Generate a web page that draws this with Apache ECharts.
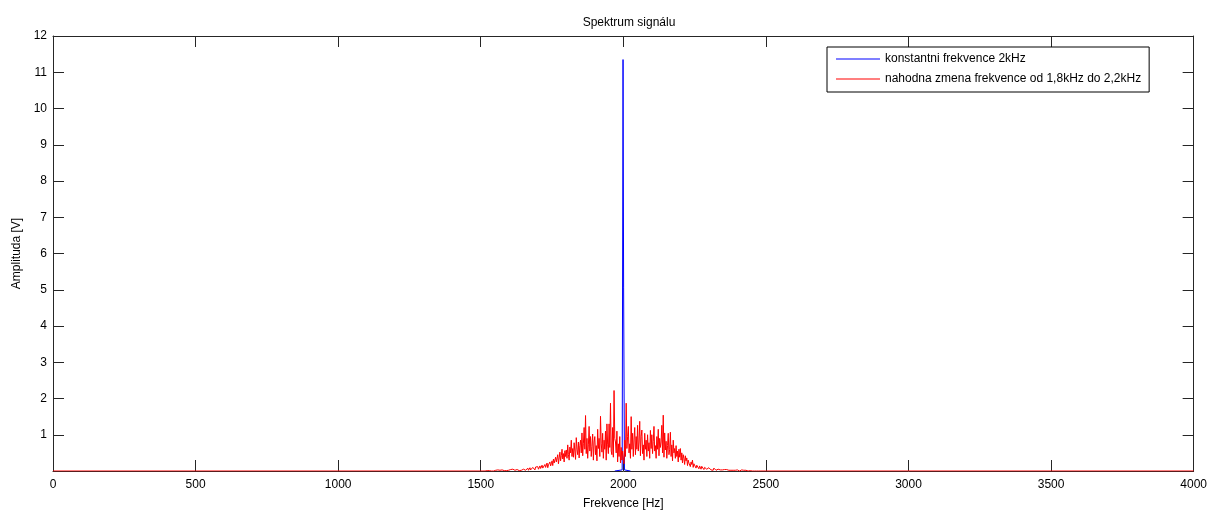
<!DOCTYPE html>
<html>
<head>
<meta charset="utf-8">
<script src="https://cdn.jsdelivr.net/npm/echarts@6/dist/echarts.min.js"></script>
<style>
html,body{margin:0;padding:0;background:#fff;overflow:hidden;}
#chart{width:1210px;height:515px;}
</style>
</head>
<body>
<div id="chart"></div>
<script>
// ---- data ----
const titleText = 'Spektrum signálu';
const xName = 'Frekvence [Hz]';
const yName = 'Amplituda [V]';
const seriesNames = ['konstantni frekvence 2kHz', 'nahodna zmena frekvence od 1,8kHz do 2,2kHz'];
const xTicks = [0, 500, 1000, 1500, 2000, 2500, 3000, 3500, 4000];
const yTicks = [1, 2, 3, 4, 5, 6, 7, 8, 9, 10, 11, 12];

// blue: constant 2 kHz tone (frequency, amplitude)
const blueFreq = [1970, 1996, 1999, 2001, 2004, 2025];
const blueAmp  = [0, 0.03, 11.35, 5.05, 0.03, 0];

// red: random frequency 1.8-2.2 kHz, sampled every 2.5 Hz from 1500 Hz to 2500 Hz
const redStart = 1500;
const redStep = 2.5;
const redAmp = [
  0.00,0.01,0.00,0.00,0.01,0.00,0.00,0.02,0.00,0.01,0.00,0.00,0.01,0.00,0.02,0.00,0.00,0.01,0.00,0.01,
  0.00,0.02,0.00,0.01,0.03,0.00,0.01,0.02,0.00,0.01,0.03,0.00,0.02,0.01,0.00,0.03,0.01,0.02,0.00,0.02,
  0.03,0.01,0.04,0.00,0.02,0.05,0.01,0.03,0.02,0.06,0.01,0.04,0.02,0.05,0.01,0.03,0.06,0.02,0.04,0.01,
  0.05,0.03,0.07,0.02,0.06,0.04,0.08,0.02,0.05,0.09,0.03,0.07,0.04,0.10,0.05,0.08,0.03,0.11,0.06,0.09,
  0.12,0.05,0.09,0.14,0.07,0.11,0.16,0.08,0.13,0.06,0.18,0.10,0.15,0.22,0.09,0.17,0.12,0.25,0.14,0.20,
  0.28,0.15,0.33,0.22,0.18,0.38,0.25,0.30,0.45,0.20,0.36,0.52,0.28,0.42,0.60,0.33,0.48,0.25,0.56,0.40,
  0.58,0.35,0.72,0.45,0.30,0.66,0.50,0.85,0.40,0.62,0.38,0.78,0.55,0.32,0.92,0.60,0.45,0.80,0.36,0.70,
  0.85,0.50,1.05,0.42,0.75,1.20,0.60,1.53,0.48,0.90,0.35,0.72,1.23,0.55,0.95,0.40,0.68,1.02,0.30,0.80,
  0.95,0.45,0.70,0.28,1.15,0.62,0.90,0.40,1.51,0.75,0.52,1.04,0.35,0.85,0.60,1.10,0.30,1.30,0.72,0.48,
  1.30,0.65,1.87,0.55,0.45,1.20,0.38,2.22,0.90,0.80,0.50,1.10,0.25,0.75,0.40,0.95,0.22,0.65,0.30,0.55,
  0.55,0.20,0.85,0.40,1.87,0.62,0.95,1.23,0.50,0.75,0.35,1.50,0.60,1.04,0.40,0.88,1.20,0.45,0.95,0.60,
  1.26,0.55,0.80,1.37,0.42,0.95,1.13,0.48,0.72,0.30,1.04,0.60,0.85,0.40,1.00,0.55,0.78,0.35,1.12,0.62,
  1.00,0.48,0.82,1.23,0.55,0.70,0.35,0.95,0.60,1.15,0.42,0.90,0.65,0.80,1.26,0.50,1.54,0.38,1.05,0.58,
  0.82,0.35,0.70,1.04,0.45,0.60,1.07,0.40,0.72,0.28,0.85,0.50,0.62,0.35,0.70,0.40,0.55,0.25,0.60,0.38,
  0.62,0.30,0.50,0.22,0.45,0.35,0.18,0.42,0.28,0.36,0.15,0.30,0.22,0.27,0.12,0.25,0.18,0.30,0.10,0.20,
  0.15,0.22,0.08,0.16,0.12,0.18,0.06,0.14,0.10,0.05,0.13,0.08,0.11,0.04,0.10,0.07,0.12,0.05,0.09,0.04,
  0.09,0.05,0.08,0.03,0.07,0.06,0.02,0.08,0.04,0.05,0.02,0.06,0.03,0.05,0.01,0.04,0.03,0.05,0.02,0.03,
  0.05,0.02,0.04,0.01,0.03,0.04,0.01,0.03,0.02,0.04,0.01,0.02,0.03,0.00,0.02,0.03,0.01,0.02,0.00,0.02,
  0.03,0.01,0.02,0.00,0.02,0.01,0.03,0.00,0.01,0.02,0.00,0.01,0.02,0.00,0.01,0.00,0.02,0.00,0.01,0.00,
  0.01,0.00,0.02,0.00,0.00,0.01,0.00,0.00,0.01,0.00,0.00,0.01,0.00,0.00,0.00,0.01,0.00,0.00,0.00,0.00,
  0.00
];

// ---- build ----
const blueData = blueFreq.map((f, i) => [f, blueAmp[i]]);
const redData = [[0, 0]].concat(redAmp.map((v, i) => [redStart + i * redStep, v]), [[4000, 0]]);

const FONT = 'Liberation Sans, Arial, sans-serif';
const AX = '#262626';

const chart = echarts.init(document.getElementById('chart'), null, {renderer: 'canvas'});
chart.setOption({
  animation: false,
  backgroundColor: '#fff',
  title: {
    text: titleText, left: 624, top: 12, textAlign: 'center',
    textStyle: {fontFamily: FONT, fontSize: 12, fontWeight: 'normal', color: '#000'}
  },
  legend: {
    orient: 'vertical', left: 827, top: 47,
    data: seriesNames,
    icon: 'rect',
    backgroundColor: '#fff', borderColor: '#000', borderWidth: 1,
    padding: [5, 8, 6, 9], itemGap: 6, itemWidth: 44, itemHeight: 1,
    textStyle: {fontFamily: FONT, fontSize: 12, color: '#000', lineHeight: 14}
  },
  grid: {left: 53, top: 36, width: 1142, height: 437, containLabel: false},
  xAxis: [{
    type: 'value', min: 0, max: 4000, interval: 500, position: 'bottom',
    name: xName, nameLocation: 'middle', nameGap: 27,
    nameTextStyle: {fontFamily: FONT, fontSize: 12, color: '#000'},
    axisLine: {show: true, lineStyle: {color: AX, width: 1}},
    axisTick: {show: true, inside: true, length: 11, lineStyle: {color: AX}},
    axisLabel: {fontFamily: FONT, fontSize: 12, color: '#000', margin: 8,
      formatter: v => xTicks.indexOf(v) >= 0 ? String(v) : ''},
    splitLine: {show: false}
  }, {
    type: 'value', min: 0, max: 4000, interval: 500, position: 'top',
    axisLine: {show: true, onZero: false, lineStyle: {color: AX, width: 1}},
    axisTick: {show: true, inside: true, length: 11, lineStyle: {color: AX}},
    axisLabel: {show: false}, splitLine: {show: false}
  }],
  yAxis: [{
    type: 'value', min: 0, max: 12, interval: 1, position: 'left',
    name: yName, nameLocation: 'middle', nameGap: 27, nameRotate: 90,
    nameTextStyle: {fontFamily: FONT, fontSize: 12, color: '#000'},
    axisLine: {show: true, lineStyle: {color: AX, width: 1}},
    axisTick: {show: true, inside: true, length: 11, lineStyle: {color: AX}},
    axisLabel: {fontFamily: FONT, fontSize: 12, color: '#000', margin: 6, showMinLabel: false,
      formatter: v => yTicks.indexOf(v) >= 0 ? String(v) : ''},
    splitLine: {show: false}
  }, {
    type: 'value', min: 0, max: 12, interval: 1, position: 'right',
    axisLine: {show: true, onZero: false, lineStyle: {color: AX, width: 1}},
    axisTick: {show: true, inside: true, length: 11, lineStyle: {color: AX}},
    axisLabel: {show: false}, splitLine: {show: false}
  }],
  series: [{
    name: seriesNames[0], type: 'line', data: blueData,
    xAxisIndex: 0, yAxisIndex: 0, symbol: 'none', z: 3,
    lineStyle: {color: '#0000ff', width: 1}, itemStyle: {color: '#0000ff'}
  }, {
    name: seriesNames[1], type: 'line', data: redData,
    xAxisIndex: 0, yAxisIndex: 0, symbol: 'none', z: 4,
    lineStyle: {color: '#ff0000', width: 1}, itemStyle: {color: '#ff0000'}
  }]
});
</script>
</body>
</html>
